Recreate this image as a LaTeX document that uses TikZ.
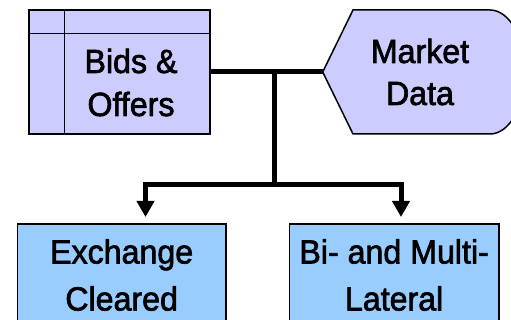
\documentclass[tikz,border=0pt]{standalone}
\usepackage{fontspec}
\setmainfont{Liberation Sans}[FakeBold=2, FakeStretch=0.96]
\usetikzlibrary{arrows.meta}
\definecolor{lavender}{HTML}{CCCCFF}
\definecolor{skyblue}{HTML}{99CCFF}
\tikzset{
  border/.style={draw=black, line width=1.5pt},
  box/.style={border, rectangle, inner sep=0pt, outer sep=0pt},
  label font/.style={font=\fontsize{33.5}{#1}\selectfont, align=center, inner sep=0pt},
  conn/.style={draw=black, line width=5pt, line join=miter},
  tip/.style={-{Triangle[width=17pt,length=16pt]}},
}
\begin{document}
\begin{tikzpicture}[x=1pt,y=-1pt]
  \clip (0,0) rectangle (511,320);

  % internal storage symbol: outer frame with a header row and a side column
  \node[box, fill=lavender, minimum width=181pt, minimum height=124pt] (bids) at (119.65,72) {};
  \node[box, fill=lavender, minimum width=145.7pt, minimum height=100.7pt]
    (cell) at (137.15,83.65) {};
  \draw[border] (bids.west |- cell.north) -- (cell.north west);
  \draw[border] (cell.north west) -- (cell.north west |- bids.north);
  \node[label font=43pt] (bidstext) at (131,82.5) {Bids \&\\Offers};

  % display symbol
  \path[border, fill=lavender] (322.7,72) -- (353,10) -- (490,10)
    arc[start angle=-90, end angle=90, x radius=35, y radius=62]
    -- (353,134) -- cycle;
  \coordinate (mtip) at (322.7,72);
  \node[label font=42pt] (market) at (420,72) {Market\\Data};

  % targets
  \node[box, fill=skyblue, minimum width=208.7pt, minimum height=102pt, label font=47pt]
    (exch) at (121.65,275) {Exchange\\Cleared};
  \node[box, fill=skyblue, minimum width=209.7pt, minimum height=102pt, label font=47pt]
    (multi) at (394.15,275) {Bi- and Multi-\\Lateral};

  % connectors
  \coordinate (j1) at (274,72);
  \coordinate (j2) at (274,185);
  \coordinate (aL) at (145.5,185);
  \coordinate (aR) at (401,185);
  \draw[conn] (bids.east) -- (mtip);
  \draw[conn] (j1) -- (j2);
  \draw[conn, tip, shorten >=7pt] (aL) -- (aL |- exch.north);
  \draw[conn, tip, shorten >=7pt] (aR) -- (aR |- multi.north);
  \draw[conn, line cap=rect] (aL) -- (aR);
\end{tikzpicture}
\end{document}
